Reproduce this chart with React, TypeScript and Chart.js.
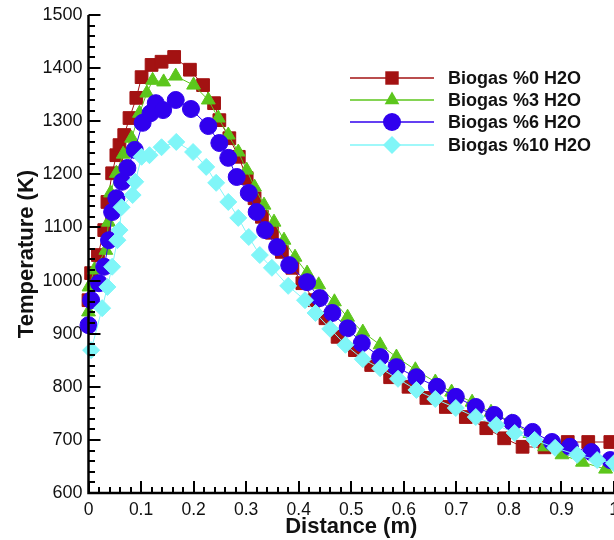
import React, { useEffect, useRef } from "react";
import { Chart, registerables } from "chart.js";

Chart.register(...registerables);

// Biogas %0 H2O
const dist0 = [0.0, 0.005, 0.018, 0.030, 0.036, 0.045, 0.053, 0.059, 0.068, 0.078, 0.091, 0.101, 0.120, 0.139, 0.163, 0.193, 0.218, 0.239, 0.249, 0.268, 0.286, 0.301, 0.316, 0.330, 0.349, 0.368, 0.388, 0.407, 0.430, 0.451, 0.474, 0.507, 0.538, 0.574, 0.609, 0.643, 0.680, 0.718, 0.757, 0.791, 0.826, 0.868, 0.912, 0.951, 0.993];
const temp0 = [963, 1014, 1048, 1095, 1148, 1202, 1236, 1255, 1274, 1306, 1344, 1383, 1406, 1412, 1421, 1397, 1368, 1334, 1302, 1268, 1233, 1193, 1155, 1120, 1090, 1054, 1024, 995, 963, 929, 894, 869, 841, 818, 800, 779, 762, 743, 722, 703, 687, 686, 696, 696, 696];

// Biogas %3 H2O
const dist3 = [0.0, 0.001, 0.011, 0.033, 0.038, 0.042, 0.053, 0.066, 0.082, 0.097, 0.111, 0.122, 0.143, 0.166, 0.200, 0.228, 0.247, 0.266, 0.285, 0.301, 0.316, 0.334, 0.353, 0.372, 0.393, 0.416, 0.438, 0.468, 0.493, 0.522, 0.555, 0.586, 0.622, 0.660, 0.691, 0.730, 0.766, 0.805, 0.840, 0.868, 0.901, 0.940, 0.984];
const temp3 = [941, 988, 1020, 1057, 1110, 1165, 1202, 1238, 1268, 1315, 1353, 1377, 1374, 1385, 1368, 1340, 1306, 1274, 1242, 1208, 1176, 1142, 1110, 1076, 1044, 1014, 992, 960, 931, 903, 879, 856, 832, 809, 790, 771, 752, 734, 712, 687, 672, 658, 645];

// Biogas %6 H2O
const dist6 = [0.0, 0.005, 0.020, 0.030, 0.039, 0.045, 0.053, 0.064, 0.074, 0.088, 0.103, 0.118, 0.128, 0.142, 0.166, 0.195, 0.228, 0.249, 0.266, 0.282, 0.305, 0.320, 0.336, 0.359, 0.382, 0.416, 0.440, 0.464, 0.493, 0.520, 0.555, 0.586, 0.624, 0.663, 0.699, 0.737, 0.772, 0.807, 0.845, 0.882, 0.916, 0.957, 0.993];
const temp6 = [916, 963, 995, 1026, 1076, 1129, 1155, 1186, 1212, 1246, 1297, 1315, 1334, 1321, 1340, 1323, 1291, 1259, 1231, 1195, 1165, 1129, 1095, 1063, 1029, 997, 967, 939, 910, 882, 856, 837, 818, 800, 781, 762, 747, 732, 715, 696, 687, 677, 662];

// Biogas %10 H2O
const dist10 = [0.005, 0.026, 0.036, 0.045, 0.055, 0.059, 0.063, 0.084, 0.089, 0.101, 0.116, 0.139, 0.167, 0.199, 0.224, 0.243, 0.266, 0.285, 0.305, 0.326, 0.349, 0.380, 0.412, 0.432, 0.460, 0.489, 0.522, 0.555, 0.589, 0.624, 0.660, 0.699, 0.737, 0.776, 0.811, 0.849, 0.888, 0.930, 0.968, 1.0];
const temp10 = [869, 948, 988, 1026, 1076, 1095, 1138, 1161, 1186, 1233, 1236, 1251, 1261, 1242, 1214, 1184, 1148, 1118, 1082, 1048, 1024, 990, 963, 939, 909, 879, 852, 835, 815, 794, 777, 760, 743, 728, 713, 700, 685, 672, 662, 656];

const seriesNames = ["Biogas %0 H2O", "Biogas %3 H2O", "Biogas %6 H2O", "Biogas %10 H2O"];
const seriesColors = ["#a31212", "#5cc61c", "#3000ee", "#80f6f8"];
const seriesStyles = ["rect", "triangle", "circle", "rectRot"];
const seriesRadius = [9, 8, 8.5, 8.5];

const FONT = "'Liberation Sans', Arial, Helvetica, sans-serif";

function drawMarker(ctx: CanvasRenderingContext2D, style: string, x: number, y: number, r: number) {
  ctx.beginPath();
  if (style === "rect") {
    const s = Math.SQRT1_2 * r;
    ctx.rect(x - s, y - s, 2 * s, 2 * s);
  } else if (style === "triangle") {
    let rad = 0;
    ctx.moveTo(x + Math.sin(rad) * r, y - Math.cos(rad) * r);
    rad += (2 * Math.PI) / 3;
    ctx.lineTo(x + Math.sin(rad) * r, y - Math.cos(rad) * r);
    rad += (2 * Math.PI) / 3;
    ctx.lineTo(x + Math.sin(rad) * r, y - Math.cos(rad) * r);
    ctx.closePath();
  } else if (style === "circle") {
    ctx.arc(x, y, r, 0, Math.PI * 2);
  } else {
    ctx.moveTo(x - r, y);
    ctx.lineTo(x, y - r);
    ctx.lineTo(x + r, y);
    ctx.lineTo(x, y + r);
    ctx.closePath();
  }
  ctx.fill();
}

const axesPlugin = {
  id: "customAxes",
  afterDatasetsDraw(chart: any) {
    const { ctx, chartArea, scales } = chart;
    const xs = scales.x;
    const ys = scales.y;
    ctx.save();
    ctx.strokeStyle = "#000";
    ctx.lineCap = "butt";
    // minor + major ticks, pointing inward
    ctx.lineWidth = 2;
    for (let v = 600; v <= 1500; v += 20) {
      const py = Math.round(ys.getPixelForValue(v));
      const major = v % 100 === 0;
      ctx.beginPath();
      ctx.moveTo(chartArea.left, py);
      ctx.lineTo(chartArea.left + (major ? 12 : 6.5), py);
      ctx.stroke();
    }
    for (let i = 0; i <= 50; i++) {
      const v = i * 0.02;
      const px = Math.round(xs.getPixelForValue(v));
      const major = i % 5 === 0;
      ctx.beginPath();
      ctx.moveTo(px, chartArea.bottom);
      ctx.lineTo(px, chartArea.bottom - (major ? 12 : 6));
      ctx.stroke();
    }
    // axis lines
    ctx.lineWidth = 2.5;
    ctx.beginPath();
    ctx.moveTo(chartArea.left, chartArea.top);
    ctx.lineTo(chartArea.left, chartArea.bottom);
    ctx.lineTo(chartArea.right + 2, chartArea.bottom);
    ctx.stroke();

    // legend
    const rowsY = [78, 100, 122, 145];
    for (let i = 0; i < 4; i++) {
      const y = rowsY[i];
      ctx.strokeStyle = seriesColors[i];
      ctx.lineWidth = 1.5;
      ctx.beginPath();
      ctx.moveTo(350, y);
      ctx.lineTo(434, y);
      ctx.stroke();
      ctx.fillStyle = seriesColors[i];
      drawMarker(ctx, seriesStyles[i], 392, y, seriesRadius[i] + 0.5);
      ctx.fillStyle = "#111";
      ctx.font = `bold 18px ${FONT}`;
      ctx.textAlign = "left";
      ctx.textBaseline = "middle";
      ctx.fillText(seriesNames[i], 448, y + 1);
    }
    ctx.restore();
  },
};

export default function App() {
  const canvasRef = useRef<HTMLCanvasElement | null>(null);

  useEffect(() => {
    if (!canvasRef.current) return;
    const dists = [dist0, dist3, dist6, dist10];
    const temps = [temp0, temp3, temp6, temp10];
    const datasets = seriesNames.map((name, i) => ({
      label: name,
      data: dists[i].map((x, j) => ({ x, y: temps[i][j] })),
      showLine: true,
      borderColor: seriesColors[i],
      backgroundColor: seriesColors[i],
      borderWidth: 1,
      pointStyle: seriesStyles[i],
      pointRadius: seriesRadius[i],
      pointBorderWidth: 1,
      pointBorderColor: seriesColors[i],
      pointBackgroundColor: seriesColors[i],
      order: 3 - i,
      clip: false,
    }));

    const chart = new Chart(canvasRef.current, {
      type: "scatter",
      data: { datasets },
      plugins: [axesPlugin],
      options: {
        animation: false,
        responsive: false,
        maintainAspectRatio: false,
        layout: { autoPadding: false, padding: { top: 15, right: 0, left: 0, bottom: 0 } },
        plugins: { legend: { display: false }, tooltip: { enabled: false } },
        scales: {
          x: {
            type: "linear",
            min: 0,
            max: 1,
            grid: { display: false, drawTicks: false },
            border: { display: false },
            ticks: {
              stepSize: 0.1,
              padding: 7,
              color: "#111",
              maxRotation: 0,
              autoSkip: false,
              font: { family: FONT, size: 17.5 },
              callback: (v: any) => {
                const n = Math.round(Number(v) * 10) / 10;
                return String(n);
              },
            },
            title: {
              display: true,
              text: "Distance (m)",
              color: "#111",
              font: { family: FONT, size: 22, weight: "bold" },
              padding: { top: 0, bottom: 0 },
            },
            afterFit: (s: any) => {
              s.height = 47;
              s.paddingLeft = 0;
              s.paddingRight = 0;
            },
          },
          y: {
            type: "linear",
            min: 600,
            max: 1500,
            grid: { display: false, drawTicks: false },
            border: { display: false },
            ticks: {
              stepSize: 100,
              padding: 6,
              color: "#111",
              autoSkip: false,
              font: { family: FONT, size: 18 },
              callback: (v: any) => String(Math.round(Number(v))),
            },
            title: {
              display: true,
              text: "Temperature (K)",
              color: "#111",
              font: { family: FONT, size: 22, weight: "bold" },
              padding: { top: 14, bottom: 0 },
            },
            afterFit: (s: any) => {
              s.width = 88.5;
              s.paddingTop = 0;
              s.paddingBottom = 0;
            },
          },
        },
      } as any,
    });
    return () => chart.destroy();
  }, []);

  return (
    <canvas
      ref={canvasRef}
      width={614}
      height={540}
      style={{ position: "absolute", left: 0, top: 0, width: 614, height: 540 }}
    />
  );
}
